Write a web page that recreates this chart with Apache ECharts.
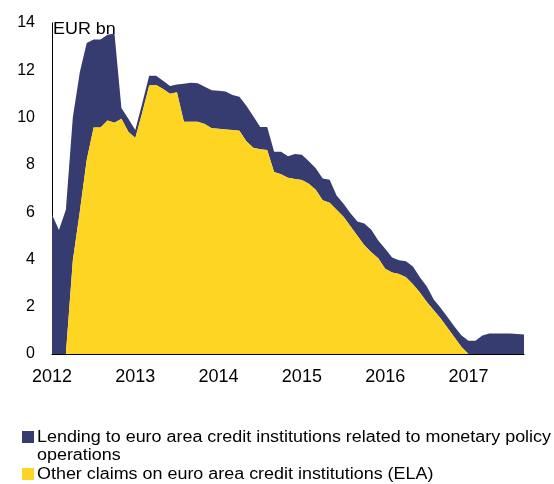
<!DOCTYPE html>
<html>
<head>
<meta charset="utf-8">
<script src="https://cdn.jsdelivr.net/npm/echarts@6/dist/echarts.min.js"></script>
<style>
  html, body { margin: 0; padding: 0; background: #ffffff; }
  #chart { width: 554px; height: 484px; }
</style>
</head>
<body>
<div id="chart"></div>
<script>
// Monthly observations, January 2012 to September 2017 (EUR bn)
const months = [];
for (let y = 2012; y <= 2017; y++) {
  for (let m = 1; m <= 12; m++) {
    if (y === 2017 && m > 9) break;
    months.push(y + '-' + String(m).padStart(2, '0'));
  }
}

// Other claims on euro area credit institutions (ELA)
const elaClaims = [
  0, 0, 0, 3.95, 6.0, 8.2, 9.58, 9.58, 9.87, 9.78, 9.95, 9.4,
  9.13, 10.2, 11.35, 11.37, 11.2, 11.0, 11.07, 9.82, 9.82, 9.82, 9.72, 9.55,
  9.52, 9.49, 9.47, 9.44, 9.0, 8.72, 8.66, 8.63, 7.7, 7.6, 7.45, 7.4,
  7.36, 7.2, 6.95, 6.5, 6.4, 6.1, 5.8, 5.4, 5.0, 4.6, 4.3, 4.05,
  3.6, 3.45, 3.38, 3.25, 2.95, 2.6, 2.2, 1.85, 1.5, 1.1, 0.7, 0.3,
  0, 0, 0, 0, 0, 0, 0, 0, 0
];

// Lending to euro area credit institutions related to monetary policy operations
const policyLending = [
  5.9, 5.24, 6.1, 6.05, 5.9, 4.95, 3.72, 3.72, 3.63, 3.77, 0.45, 0.55,
  0.34, 0.4, 0.42, 0.4, 0.35, 0.33, 0.33, 1.61, 1.65, 1.63, 1.58, 1.6,
  1.61, 1.61, 1.48, 1.44, 1.5, 1.33, 0.94, 0.97, 0.85, 0.95, 0.91, 1.06,
  1.06, 0.95, 0.9, 0.92, 0.97, 0.6, 0.55, 0.55, 0.6, 0.92, 0.95, 0.75,
  0.85, 0.63, 0.58, 0.67, 0.75, 0.65, 0.65, 0.45, 0.45, 0.45, 0.45, 0.48,
  0.56, 0.56, 0.78, 0.87, 0.87, 0.87, 0.87, 0.85, 0.82
];

const yTicks = { min: 0, max: 14, step: 2 };

const NAVY = '#363b70';
const YELLOW = '#fed523';
const FONT = '"Liberation Sans", Arial, sans-serif';
const WIDE = 1.12; // horizontal stretch of the text face

const legendItems = [
  { color: NAVY, lines: ['Lending to euro area credit institutions related to monetary policy', 'operations'] },
  { color: YELLOW, lines: ['Other claims on euro area credit institutions (ELA)'] }
];

const chart = echarts.init(document.getElementById('chart'), null, { renderer: 'canvas' });

// Legend drawn as square markers with wrapped text
const legendGraphics = [];
let ly = 430;
const lineH = 18.5;
legendItems.forEach(item => {
  legendGraphics.push({
    type: 'rect',
    x: 22, y: ly + 1,
    shape: { width: 12, height: 12 },
    style: { fill: item.color }
  });
  legendGraphics.push({
    type: 'text',
    x: 37, y: ly - 2,
    scaleX: WIDE,
    style: {
      text: item.lines.join('\n'),
      font: '16px ' + FONT,
      fill: '#000000',
      lineHeight: lineH,
      textAlign: 'left',
      textVerticalAlign: 'top'
    }
  });
  ly += lineH * item.lines.length;
});

chart.setOption({
  animation: false,
  backgroundColor: '#ffffff',
  grid: { left: 52, right: 30, top: 22.9, bottom: 130, containLabel: false },
  xAxis: {
    type: 'category',
    data: months,
    boundaryGap: false,
    axisLine: { show: true, lineStyle: { color: '#000000', width: 1 } },
    axisTick: { show: false },
    splitLine: { show: false },
    axisLabel: {
      interval: (idx) => idx % 12 === 0,
      formatter: (v) => v.slice(0, 4),
      color: '#000000',
      fontFamily: FONT,
      fontSize: 18,
      margin: 14
    }
  },
  yAxis: {
    type: 'value',
    min: yTicks.min, max: yTicks.max, interval: yTicks.step,
    axisLine: { show: true, lineStyle: { color: '#000000', width: 1 } },
    axisTick: { show: false },
    splitLine: { show: false },
    axisLabel: {
      color: '#000000',
      fontFamily: FONT,
      fontSize: 16,
      margin: 17,
      padding: [6, 0, 0, 0]
    }
  },
  series: [
    {
      name: 'Other claims on euro area credit institutions (ELA)',
      type: 'line',
      stack: 'claims',
      data: elaClaims,
      showSymbol: false,
      lineStyle: { width: 0 },
      areaStyle: { color: YELLOW, opacity: 1 },
      z: 3
    },
    {
      name: 'Lending to euro area credit institutions related to monetary policy operations',
      type: 'line',
      stack: 'claims',
      data: policyLending,
      showSymbol: false,
      lineStyle: { width: 0 },
      areaStyle: { color: NAVY, opacity: 1 },
      z: 2
    }
  ],
  graphic: [
    {
      type: 'text',
      x: 53, y: 22,
      scaleX: WIDE,
      z: -1,
      style: { text: 'EUR bn', font: '16px ' + FONT, fill: '#000000', textAlign: 'left', textVerticalAlign: 'top' }
    }
  ].concat(legendGraphics)
});
</script>
</body>
</html>
